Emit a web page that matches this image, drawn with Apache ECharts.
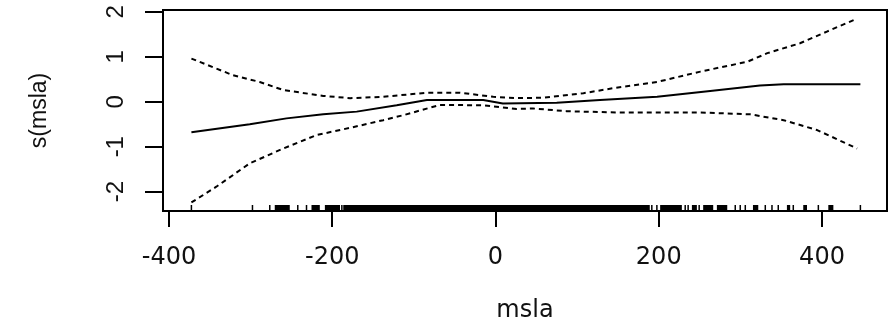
<!DOCTYPE html>
<html>
<head>
<meta charset="utf-8">
<script src="https://cdn.jsdelivr.net/npm/echarts@6/dist/echarts.min.js"></script>
<style>
html,body{margin:0;padding:0;background:#fff;}
#chart{width:889px;height:325px;}
</style>
</head>
<body>
<div id="chart"></div>
<script>
// ---- data ----
const fitX  = [-372.5, -301, -256, -211, -170, -121, -84, -15, 9, 75, 128, 198, 263, 324, 353, 447];
const fitY  = [-0.68, -0.50, -0.37, -0.28, -0.22, -0.08, 0.04, 0.04, -0.04, -0.02, 0.04, 0.11, 0.24, 0.36, 0.39, 0.39];

const upperX = [-372.5, -321.6, -288.8, -260, -211, -178, -137.6, -84, -43.5, -2.7, 26, 58.6, 107.7, 144, 198, 251, 308.6, 333, 373, 406, 443];
const upperY = [0.96, 0.59, 0.44, 0.26, 0.13, 0.08, 0.11, 0.20, 0.20, 0.11, 0.08, 0.09, 0.19, 0.30, 0.44, 0.67, 0.89, 1.08, 1.30, 1.56, 1.85];

const lowerX = [-372.5, -342, -301, -260, -219, -178, -137.6, -113, -68, -15, 26, 46, 87, 149, 251, 312, 353, 394, 443];
const lowerY = [-2.24, -1.89, -1.37, -1.04, -0.74, -0.58, -0.41, -0.30, -0.07, -0.08, -0.16, -0.15, -0.21, -0.24, -0.24, -0.28, -0.41, -0.63, -1.04];

// rug: isolated observations and dense runs of observations
const rugTicks = [-372.5, -297.7, -276.5, -242.2, -231.5, -188.2, 191.5, 197.7, 232.4, 236, 249.5, 293.7, 299.8, 306, 330.5, 338.7, 346.4, 364.8, 395.5, 447];
const rugSpans = [[-270.4, -252], [-225.4, -215.2], [-209, -190.5], [-186.5, 189], [201.7, 228.3], [240.6, 246.7], [254.4, 266.7], [271.2, 283.9], [315.4, 321.9], [357, 361], [377, 381.6], [407.7, 413.9]];

const xTicks = [-400, -200, 0, 200, 400];
const yTicks = [-2, -1, 0, 1, 2];
const xName = 'msla';
const yName = 's(msla)';

// ---- chart ----
const X_MIN = -407.3, X_MAX = 479.6, Y_MIN = -2.43, Y_MAX = 2.04;
const zip = (a, b) => a.map((v, i) => [v, b[i]]);
const rugData = rugTicks.map(v => [v, v]).concat(rugSpans);

const chart = echarts.init(document.getElementById('chart'), null, {renderer: 'canvas'});
chart.setOption({
  animation: false,
  backgroundColor: '#ffffff',
  grid: {left: 163, right: 2, top: 10, bottom: 114, containLabel: false, outerBoundsMode: 'none',
         show: true, borderColor: '#000', borderWidth: 2, backgroundColor: 'transparent'},
  xAxis: {
    type: 'value', min: X_MIN, max: X_MAX,
    name: xName, nameLocation: 'middle', nameGap: 88,
    nameTextStyle: {fontFamily: 'DejaVu Sans', fontSize: 24, color: '#111'},
    axisLine: {show: true, onZero: false, lineStyle: {color: '#000', width: 2}},
    axisTick: {show: true, inside: false, length: 16, lineStyle: {color: '#000', width: 2}, customValues: xTicks},
    axisLabel: {show: true, margin: 35, fontFamily: 'DejaVu Sans', fontSize: 24, color: '#111', customValues: xTicks, formatter: v => String(v)},
    splitLine: {show: false}
  },
  yAxis: {
    type: 'value', min: Y_MIN, max: Y_MAX,
    name: yName, nameLocation: 'middle', nameGap: 112, nameRotate: 90,
    nameTextStyle: {fontFamily: 'Liberation Sans', fontSize: 23, color: '#111'},
    axisLine: {show: true, onZero: false, lineStyle: {color: '#000', width: 2}},
    axisTick: {show: true, inside: false, length: 18, lineStyle: {color: '#000', width: 2}, customValues: yTicks},
    axisLabel: {show: true, rotate: 90, margin: 35, fontFamily: 'Liberation Sans', fontSize: 24, color: '#111', customValues: yTicks, formatter: v => String(v)},
    splitLine: {show: false}
  },
  series: [
    {type: 'line', data: zip(fitX, fitY), symbol: 'none', lineStyle: {color: '#000', width: 2}},
    {type: 'line', data: zip(upperX, upperY), symbol: 'none', lineStyle: {color: '#000', width: 2, type: [5, 4]}},
    {type: 'line', data: zip(lowerX, lowerY), symbol: 'none', lineStyle: {color: '#000', width: 2, type: [5, 4]}},
    {
      type: 'custom', data: rugData, encode: {x: [0, 1]},
      renderItem: function (params, api) {
        const p0 = api.coord([api.value(0), Y_MIN]);
        const p1 = api.coord([api.value(1), Y_MIN]);
        const h = 6;
        if (p1[0] - p0[0] < 1) {
          return {type: 'line', shape: {x1: p0[0], y1: p0[1], x2: p0[0], y2: p0[1] - h}, style: {stroke: '#000', lineWidth: 1.5}};
        }
        return {type: 'rect', shape: {x: p0[0], y: p0[1] - h, width: p1[0] - p0[0], height: h}, style: {fill: '#000'}};
      }
    }
  ]
});
</script>
</body>
</html>
